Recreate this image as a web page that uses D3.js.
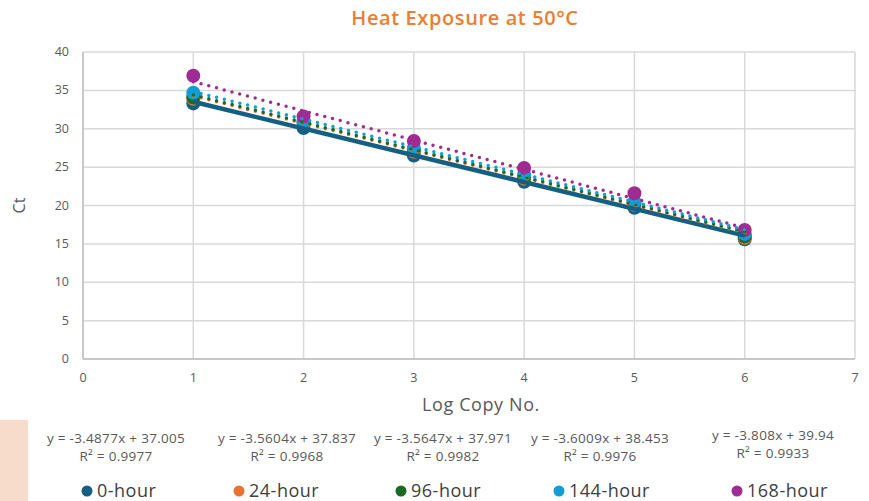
<!DOCTYPE html>
<html>
<head>
<meta charset="utf-8">
<script src="https://cdn.jsdelivr.net/npm/d3@7"></script>
<style>
  body { margin: 0; background: #fff; }
  svg { font-family: "Open Sans", Lato, sans-serif; }
</style>
</head>
<body>
<div id="chart"></div>
<script>
// data
let series = ["0-hour", "24-hour", "96-hour", "144-hour", "168-hour"]
let colors = ["#156082", "#E97132", "#196B24", "#0F9ED5", "#A02B93"]
let logCopy = [1, 2, 3, 4, 5, 6]
let ct0 = [33.3, 30.1, 26.5, 23.1, 19.7, 15.6]
let ct24 = [33.9, 30.7, 27.0, 23.5, 20.1, 15.8]
let ct96 = [34.1, 30.9, 27.2, 23.7, 20.3, 16.0]
let ct144 = [34.7, 31.0, 27.5, 24.0, 20.5, 16.3]
let ct168 = [36.9, 31.6, 28.4, 24.9, 21.6, 16.8]
let slopes = [-3.4877, -3.5604, -3.5647, -3.6009, -3.808]
let intercepts = [37.005, 37.837, 37.971, 38.453, 39.94]
let equations = ["y = -3.4877x + 37.005", "y = -3.5604x + 37.837", "y = -3.5647x + 37.971", "y = -3.6009x + 38.453", "y = -3.808x + 39.94"]
let rSquared = ["R² = 0.9977", "R² = 0.9968", "R² = 0.9982", "R² = 0.9976", "R² = 0.9933"]
let xTicks = [0, 1, 2, 3, 4, 5, 6, 7]
let yTicks = [0, 5, 10, 15, 20, 25, 30, 35, 40]

let allCt = [ct0, ct24, ct96, ct144, ct168]

createVis()

function createVis() {
    var width = 869, height = 501
    var margin = { top: 52, right: 14, bottom: 142, left: 83 }

    var svg = d3.select("#chart")
        .append("svg")
        .attr("width", width)
        .attr("height", height)

    // peach block at bottom left
    svg.append("rect")
        .attr("x", 0).attr("y", 420)
        .attr("width", 28).attr("height", 81)
        .attr("fill", "#F8DCCB")

    var x = d3.scaleLinear().domain([0, 7]).range([margin.left, width - margin.right])
    var y = d3.scaleLinear().domain([0, 40]).range([height - margin.bottom, margin.top])

    // gridlines
    svg.append("g").selectAll("line")
        .data(yTicks)
        .enter().append("line")
        .attr("x1", x(0)).attr("x2", x(7))
        .attr("y1", d => y(d)).attr("y2", d => y(d))
        .attr("stroke", "#d9d9d9").attr("stroke-width", 1.5)
    svg.append("g").selectAll("line")
        .data(xTicks)
        .enter().append("line")
        .attr("y1", y(0)).attr("y2", y(40))
        .attr("x1", d => x(d)).attr("x2", d => x(d))
        .attr("stroke", "#d9d9d9").attr("stroke-width", 1.5)
    // axis lines
    svg.append("line")
        .attr("x1", x(0)).attr("x2", x(0)).attr("y1", y(0)).attr("y2", y(40))
        .attr("stroke", "#bfbfbf").attr("stroke-width", 1.5)
    svg.append("line")
        .attr("x1", x(0)).attr("x2", x(7)).attr("y1", y(0)).attr("y2", y(0))
        .attr("stroke", "#bfbfbf").attr("stroke-width", 1.5)

    // tick labels
    svg.append("g").selectAll("text")
        .data(yTicks)
        .enter().append("text")
        .attr("x", x(0) - 14).attr("y", d => y(d) + 4)
        .attr("text-anchor", "end")
        .attr("font-size", 12.5).attr("fill", "#595959")
        .text(d => d)
    svg.append("g").selectAll("text")
        .data(xTicks)
        .enter().append("text")
        .attr("x", d => x(d)).attr("y", y(0) + 23)
        .attr("text-anchor", "middle")
        .attr("font-size", 12.5).attr("fill", "#595959")
        .text(d => d)

    // titles
    svg.append("text")
        .attr("x", 465).attr("y", 25)
        .attr("text-anchor", "middle")
        .attr("font-size", 20).attr("font-weight", 600)
        .attr("letter-spacing", 0.6)
        .attr("fill", "#ED7D31")
        .text("Heat Exposure at 50°C")
    svg.append("text")
        .attr("transform", "translate(25," + (y(20)) + ")rotate(-90)")
        .attr("text-anchor", "middle")
        .attr("font-size", 16).attr("fill", "#595959")
        .text("Ct")
    svg.append("text")
        .attr("x", 481).attr("y", 411)
        .attr("text-anchor", "middle")
        .attr("font-size", 18).attr("letter-spacing", 0.6)
        .attr("fill", "#595959")
        .text("Log Copy No.")

    // points
    series.forEach(function (s, i) {
        svg.append("g").selectAll("circle")
            .data(allCt[i])
            .enter().append("circle")
            .attr("cx", (d, j) => x(logCopy[j]))
            .attr("cy", d => y(d))
            .attr("r", 7)
            .attr("fill", colors[i])
    })

    // trendlines
    series.forEach(function (s, i) {
        var x0 = logCopy[0], x1 = logCopy[logCopy.length - 1]
        var line = svg.append("line")
            .attr("x1", x(x0)).attr("y1", y(slopes[i] * x0 + intercepts[i]))
            .attr("x2", x(x1)).attr("y2", y(slopes[i] * x1 + intercepts[i]))
            .attr("stroke", colors[i])
        if (i === 0) {
            line.attr("stroke-width", 4.5)
        } else {
            line.attr("stroke-width", 3.5)
                .attr("stroke-linecap", "round")
                .attr("stroke-dasharray", "0 8")
        }
    })

    // equations
    var eqX = [116, 287, 443, 600, 773]
    var eqY = [443, 443, 443, 443, 440]
    series.forEach(function (s, i) {
        svg.append("text")
            .attr("x", eqX[i]).attr("y", eqY[i])
            .attr("text-anchor", "middle")
            .attr("font-size", 13.5).attr("letter-spacing", 0.3)
            .attr("fill", "#595959")
            .text(equations[i])
        svg.append("text")
            .attr("x", eqX[i]).attr("y", eqY[i] + 18)
            .attr("text-anchor", "middle")
            .attr("font-size", 13.5).attr("letter-spacing", 0.3)
            .attr("fill", "#595959")
            .text(rSquared[i])
    })

    // legend
    var legX = [87, 239, 401, 559, 737]
    series.forEach(function (s, i) {
        svg.append("circle")
            .attr("cx", legX[i]).attr("cy", 491)
            .attr("r", 5.5)
            .attr("fill", colors[i])
        svg.append("text")
            .attr("x", legX[i] + 10).attr("y", 497)
            .attr("font-size", 18).attr("letter-spacing", 0.5)
            .attr("fill", "#404040")
            .text(s)
    })
}
</script>
</body>
</html>
